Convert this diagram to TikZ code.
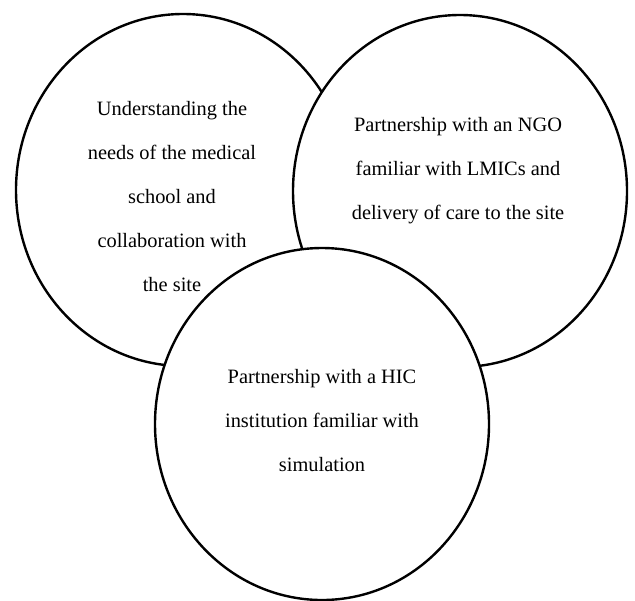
\documentclass[tikz,border=0pt]{standalone}
\usepackage{fontspec}
\setmainfont{Liberation Serif}
\usetikzlibrary{shapes.geometric}

\begin{document}
\begin{tikzpicture}[
  x=0.5pt, y=-0.5pt,
  ring/.style={draw, ellipse, fill=white, line width=1.2pt, inner sep=0pt,
               minimum width=167pt, minimum height=176pt},
  txt/.style={align=center, inner sep=0pt, font=\fontsize{10.2}{22}\selectfont}
]
\useasboundingbox (0,0) rectangle (635,600);

% ---- the three rings, later ones covering earlier ones -----------------
\node[ring] (need) at (183,190) {};
\node[ring] (ngo)  at (460,191) {};
\node[ring] (hic)  at (322,424) {};

% ---- ring texts ----------------------------------------------------------
\node[txt] (needtxt) at (172,197) {Understanding the\\needs of the medical\\school and\\collaboration with\\the site};
\node[txt] (ngotxt)  at (458,171) {Partnership with an NGO\\familiar with LMICs and\\delivery of care to the site};
\node[txt] (hictxt)  at (322,421) {Partnership with a HIC\\institution familiar with\\simulation};
\end{tikzpicture}
\end{document}
